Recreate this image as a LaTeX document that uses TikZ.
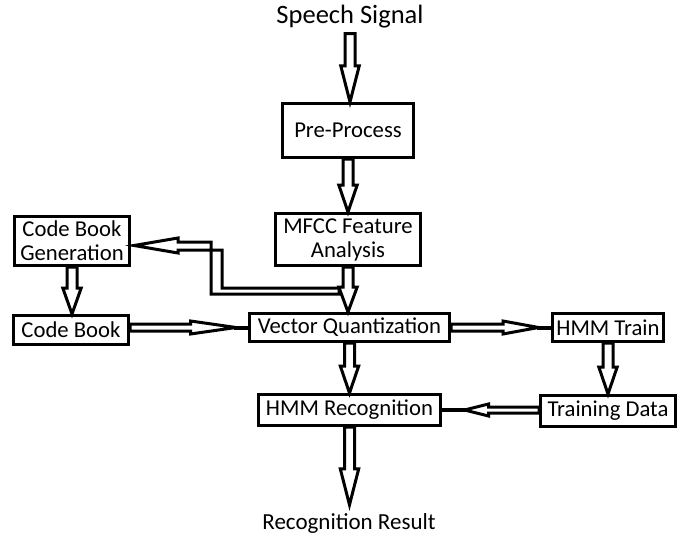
\documentclass[tikz,border=0pt]{standalone}
\usepackage{fontspec}
\setmainfont{Carlito}
\usetikzlibrary{calc}
% vertical hollow block arrow: from, to, head length
\newcommand\blockdown[3]{%
  \draw[blk] let \p1=(#1), \p2=(#2) in
    (\x1-5pt,\y1) -- (\x1-5pt,\y2+#3) -- (\x1-9.2pt,\y2+#3) -- (\x1,\y2)
    -- (\x1+9.2pt,\y2+#3) -- (\x1+5pt,\y2+#3) -- (\x1+5pt,\y1) -- cycle;}
\begin{document}
\begin{tikzpicture}[x=1pt,y=-1pt,
  box/.style={draw, line width=3pt, inner sep=0pt, align=center,
    font=\fontsize{22.7}{24}\selectfont},
  lbl/.style={inner sep=0pt, font=\fontsize{23}{26}\selectfont},
  blk/.style={draw, line width=3pt, line join=miter, fill=white},
  tipline/.style={draw, line width=4pt}]
\useasboundingbox (0,0) rectangle (678,535);
\fill[white] (0,0) rectangle (678,535);

\node[lbl, font=\fontsize{26.5}{30}\selectfont] (speech) at (350,17) {Speech Signal};
\node[box, minimum width=131pt, minimum height=54pt] (pre) at (348,130.5) {Pre-Process};
\node[box, minimum width=145pt, minimum height=52pt] (mfcc) at (348,239.5) {MFCC Feature\\Analysis};
\node[box, minimum width=200pt, minimum height=28pt] (vq) at (349.5,327.5) {Vector Quantization};
\node[box, minimum width=111pt, minimum height=28pt] (train) at (608,327.5) {HMM Train};
\node[box, minimum width=135pt, minimum height=31pt] (tdata) at (608,411) {Training Data};
\node[box, minimum width=182pt, minimum height=31pt] (rec) at (349.5,410) {HMM Recognition};
\node[box, minimum width=115pt, minimum height=49pt] (cbg) at (72,241) {Code Book\\Generation};
\node[box, minimum width=115pt, minimum height=29pt] (cb) at (71,330) {Code Book};
\node[lbl] (result) at (349,523) {Recognition Result};

\coordinate (split) at ($(mfcc.south)+(-9,24)$);

% vertical arrows
\blockdown{$(speech.south)+(0,5)$}{pre.north}{36pt}
\blockdown{pre.south}{mfcc.north}{27pt}
\blockdown{mfcc.south}{vq.north}{25pt}
\blockdown{vq.south}{rec.north}{27pt}
\blockdown{rec.south}{$(result.north)+(0,-8)$}{36pt}
\blockdown{train.south}{tdata.north}{27pt}
\blockdown{cbg.south}{cb.north}{26pt}

% elbow arrow MFCC -> Code Book Generation
\draw[blk] ($(split)+(0,-3)$) -- ++(-117,0) -- ++(0,-38) -- ++(-44,0) -- ++(0,3)
  -- ++(-44,-7.5) -- ++(44,-7.5) -- ++(0,4) -- ++(33,0) -- ++(0,52) -- ++(128,0) -- cycle;

% Code Book -> Vector Quantization
\draw[blk] let \p1=(cb.east), \p2=(vq.west) in
  (\x1,\y2+3.5pt) -- (\x1+60.5pt,\y2+3.5pt) -- (\x1+60.5pt,\y2+6.5pt) -- (\x2-12pt,\y2)
  -- (\x1+60.5pt,\y2-6.5pt) -- (\x1+60.5pt,\y2-3.5pt) -- (\x1,\y2-3.5pt) -- cycle;
\draw[tipline] let \p2=(vq.west) in (\x2-14pt,\y2) -- (vq.west);

% Vector Quantization -> HMM Train
\draw[blk] let \p1=(vq.east), \p2=(train.west) in
  (\x1,\y2+3.5pt) -- (\x1+52pt,\y2+3.5pt) -- (\x1+52pt,\y2+6.5pt) -- (\x2-12.5pt,\y2)
  -- (\x1+52pt,\y2-6.5pt) -- (\x1+52pt,\y2-3.5pt) -- (\x1,\y2-3.5pt) -- cycle;
\draw[tipline] let \p2=(train.west) in (\x2-14.5pt,\y2) -- (train.west);

% Training Data -> HMM Recognition
\draw[blk] let \p1=(tdata.west), \p2=(rec.east) in
  (\x1,\y2+3pt) -- (\x1-50.5pt,\y2+3pt) -- (\x1-50.5pt,\y2+6pt) -- (\x2+22.5pt,\y2)
  -- (\x1-50.5pt,\y2-6pt) -- (\x1-50.5pt,\y2-3pt) -- (\x1,\y2-3pt) -- cycle;
\draw[tipline] let \p2=(rec.east) in (\x2+24.5pt,\y2) -- (rec.east);
\end{tikzpicture}
\end{document}
